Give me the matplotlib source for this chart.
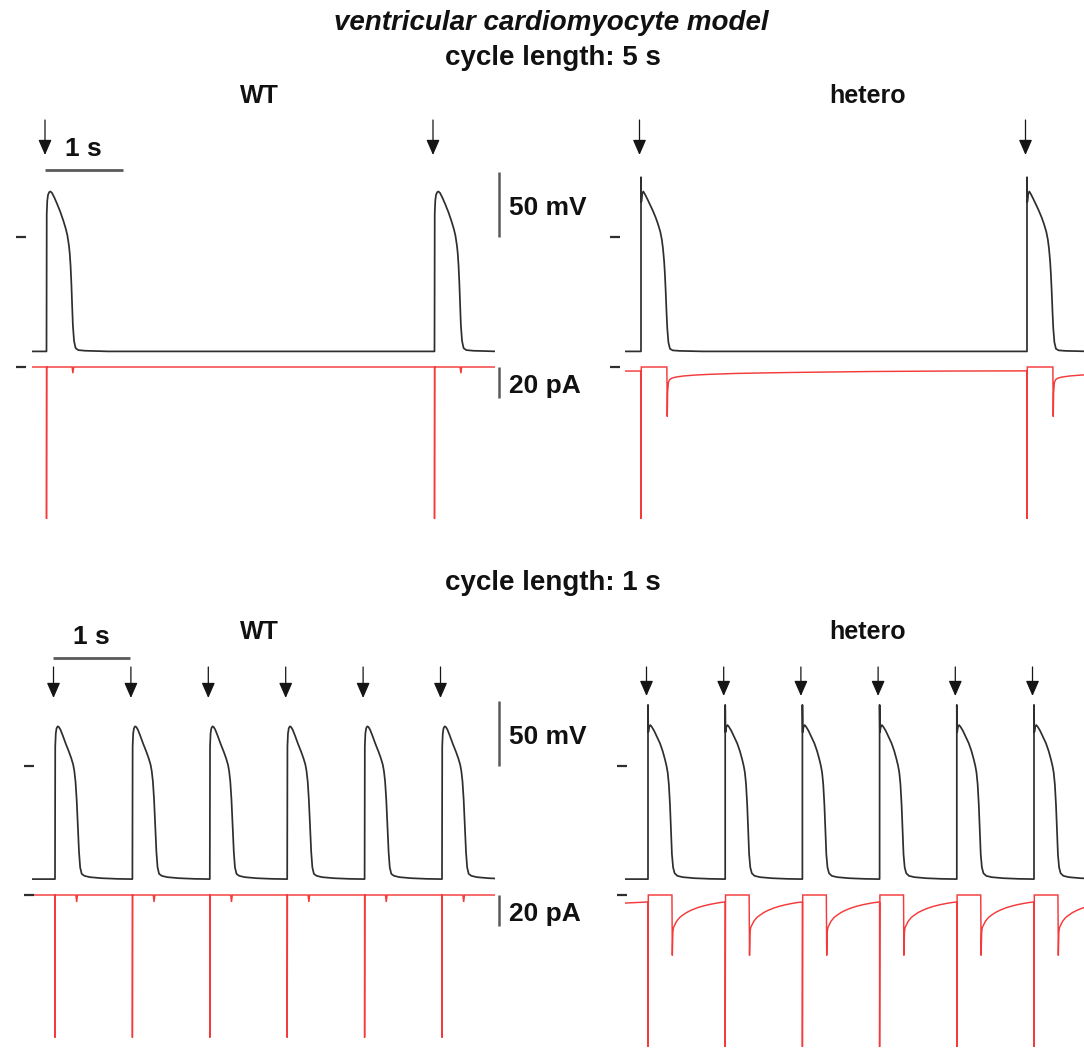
import matplotlib
matplotlib.use("Agg")
import matplotlib.pyplot as plt

plt.rcParams['font.family'] = ['Liberation Sans', 'DejaVu Sans']

# ---------------- data ----------------
# stimulus times (s)
stim_5s = [0.0, 5.0]
stim_1s = [0.0, 1.0, 2.0, 3.0, 4.0, 5.0]

# WT action potential, cycle length 5 s (time after stimulus in s, mV)
wt5_t = [0.0, 0.003, 0.01, 0.02, 0.035, 0.05, 0.07, 0.10, 0.14, 0.18, 0.22, 0.25, 0.27,
         0.29, 0.30, 0.31, 0.32, 0.33, 0.34, 0.355, 0.375, 0.41, 0.50, 0.80, 5.0]
wt5_v = [-88, 18, 28, 32.5, 34.5, 35, 34, 30.5, 25, 19, 12, 6, 1,
         -7, -13, -22, -35, -52, -68, -80, -85.5, -87, -87.5, -88, -88]
# WT current, cycle length 5 s (pA)
wt5_it = [0.0, 0.0, 0.003, 0.33, 0.34, 0.35, 5.0]
wt5_i = [0.0, -98, 0.0, 0.0, -4.0, 0.0, 0.0]

# hetero action potential, cycle length 5 s
het5_t = [0.0, 0.0, 0.004, 0.015, 0.03, 0.05, 0.08, 0.12, 0.155, 0.19, 0.22, 0.25, 0.27,
          0.285, 0.30, 0.31, 0.32, 0.33, 0.34, 0.355, 0.375, 0.41, 0.50, 0.80, 5.0]
het5_v = [-88, 46, 27, 33, 35, 33, 29.5, 24.5, 20, 15, 10, 4, -2,
          -9, -19, -29, -42, -57, -70, -81, -86, -87.2, -87.6, -88, -88]
# hetero current, cycle length 5 s
het5_it = [0.0, 0.0, 0.004, 0.335, 0.34, 0.345, 0.355, 0.37, 0.40, 0.45, 0.55, 0.70,
           0.90, 1.2, 1.6, 2.0, 2.5, 3.0, 4.0, 5.0]
het5_i = [-2.6, -98, 0.0, 0.0, -32, -16, -10, -8.2, -7.2, -6.5, -5.8, -5.2,
          -4.7, -4.2, -3.8, -3.5, -3.2, -2.9, -2.6, -2.5]

# WT action potential, cycle length 1 s
wt1_t = [0.0, 0.003, 0.01, 0.02, 0.035, 0.05, 0.07, 0.10, 0.14, 0.18, 0.21, 0.235, 0.25,
         0.265, 0.28, 0.295, 0.31, 0.325, 0.345, 0.38, 0.45, 0.60, 0.80, 1.0]
wt1_v = [-87, 15, 25, 29, 30.5, 30, 28, 23.5, 17, 11, 6, 1, -4,
         -12, -26, -46, -66, -78, -83, -84.5, -85.5, -86.3, -86.8, -87]
wt1_it = [0.0, 0.0, 0.003, 0.27, 0.28, 0.29, 1.0]
wt1_i = [0.0, -92, 0.0, 0.0, -4.5, 0.0, 0.0]

# hetero action potential, cycle length 1 s
het1_t = [0.0, 0.0, 0.004, 0.015, 0.03, 0.05, 0.08, 0.12, 0.155, 0.19, 0.22, 0.24, 0.255,
          0.27, 0.285, 0.298, 0.31, 0.325, 0.345, 0.38, 0.45, 0.60, 0.80, 1.0]
het1_v = [-87, 47, 26, 30, 31.5, 30, 27, 22, 17.5, 11.5, 5, 0, -5,
          -14, -30, -50, -68, -78, -82.5, -84.5, -85.5, -86.3, -86.8, -87]
het1_it = [0.0, 0.0, 0.004, 0.31, 0.315, 0.322, 0.33, 0.345, 0.37, 0.41, 0.45, 0.50,
           0.56, 0.63, 0.70, 0.78, 0.86, 0.93, 1.0]
het1_i = [-4.5, -98, 0.0, 0.0, -39, -24, -21, -19.5, -17, -14.5, -13, -11.3,
          -9.8, -8.4, -7.3, -6.3, -5.5, -4.9, -4.5]

# resting values before the first stimulus
rest_v = {"wt5": -88, "het5": -88, "wt1": -87, "het1": -87}
rest_i = {"wt5": 0.0, "het5": -2.6, "wt1": 0.0, "het1": -5.2}

title_main = "ventricular cardiomyocyte model"
title_5s = "cycle length: 5 s"
title_1s = "cycle length: 1 s"
groups = ["WT", "hetero"]
v_bar_label = "50 mV"
i_bar_label = "20 pA"
t_bar_label = "1 s"

# ---------------- figure ----------------
W, H = 1084, 1048
fig = plt.figure(figsize=(W / 100, H / 100), dpi=100)
fig.patch.set_facecolor("white")

BLACK = "#2e2e2e"
RED = "#f43a3a"
GREY = "#5a5a5a"


def px_axes(x0, pps, t_lo, t_hi, zero_px, ppu, y_top, y_bot):
    left = x0 + pps * t_lo
    right = x0 + pps * t_hi
    ax = fig.add_axes([left / W, 1 - y_bot / H, (right - left) / W, (y_bot - y_top) / H])
    ax.set_xlim(t_lo, t_hi)
    ax.set_ylim((zero_px - y_bot) / ppu, (zero_px - y_top) / ppu)
    ax.axis("off")
    return ax


def build(stims, bt, bv, t_start, pre):
    tt = [t_start]
    vv = [pre]
    for s in stims:
        tt += [s + x for x in bt]
        vv += list(bv)
    return tt, vv


def panel(key, stims, bt, bv, it, iv, x0, pps, t_lo, t_hi, v0_px, i0_px,
          v_top, v_bot, i_top, i_bot, arrow_top, arrow_tip, scalebars, tbar=None):
    ppm = 1.3   # px per mV
    ppa = 1.55  # px per pA
    axv = px_axes(x0, pps, t_lo, t_hi, v0_px, ppm, v_top, v_bot)
    axi = px_axes(x0, pps, t_lo, t_hi, i0_px, ppa, i_top, i_bot)
    t, v = build(stims, bt, bv, t_lo, rest_v[key])
    axv.plot(t, v, color=BLACK, lw=1.25, solid_joinstyle="round")
    t, i = build(stims, it, iv, t_lo, rest_i[key])
    axi.plot(t, i, color=RED, lw=1.05, solid_joinstyle="miter")

    # zero-level markers
    m0 = -31 / pps
    m1 = -21 / pps
    axv.plot([m0, m1], [0, 0], color=BLACK, lw=1.6, clip_on=False, solid_capstyle="butt")
    axi.plot([m0, m1], [0, 0], color=BLACK, lw=1.6, clip_on=False, solid_capstyle="butt")

    # stimulus arrows
    ya = (v0_px - arrow_top) / ppm
    yb = (v0_px - arrow_tip) / ppm
    for s in stims:
        if t_lo <= s <= t_hi:
            axv.annotate("", xy=(s - 1.5 / pps, yb), xytext=(s - 1.5 / pps, ya),
                         annotation_clip=False,
                         arrowprops=dict(arrowstyle="-|>,head_length=0.55,head_width=0.24",
                                         color="#151515", lw=0.9, shrinkA=0, shrinkB=0,
                                         mutation_scale=17))

    if scalebars:
        xb = (499 - x0) / pps
        axv.plot([xb, xb], [0, 50], color=GREY, lw=1.8, clip_on=False, solid_capstyle="butt")
        axi.plot([xb, xb], [0, -20], color=GREY, lw=1.8, clip_on=False, solid_capstyle="butt")
        xt = (509 - x0) / pps
        axv.text(xt, 22, v_bar_label, ha="left", va="center", fontsize=19,
                 fontweight="bold", color="#111111", clip_on=False)
        axi.text(xt, -12, i_bar_label, ha="left", va="center", fontsize=19,
                 fontweight="bold", color="#111111", clip_on=False)
    if tbar is not None:
        tb_x, tb_y, txt_y = tbar
        t0 = (tb_x - x0) / pps
        yy = (v0_px - tb_y) / ppm
        axv.plot([t0, t0 + 1.0], [yy, yy], color=GREY, lw=2.0, clip_on=False,
                 solid_capstyle="butt")
        axv.text(t0 + 0.5, (v0_px - txt_y) / ppm, t_bar_label, ha="center", va="center",
                 fontsize=19, fontweight="bold", color="#111111", clip_on=False)
    return axv, axi


# top row: cycle length 5 s
panel("wt5", stim_5s, wt5_t, wt5_v, wt5_it, wt5_i, x0=46.5, pps=77.6,
      t_lo=(32 - 46.5) / 77.6, t_hi=(495 - 46.5) / 77.6, v0_px=237, i0_px=367,
      v_top=110, v_bot=362, i_top=358, i_bot=524, arrow_top=120, arrow_tip=155,
      scalebars=True, tbar=(45, 170, 149))
panel("het5", stim_5s, het5_t, het5_v, het5_it, het5_i, x0=641, pps=77.2,
      t_lo=(625 - 641) / 77.2, t_hi=(1095 - 641) / 77.2, v0_px=237, i0_px=367,
      v_top=110, v_bot=362, i_top=358, i_bot=524, arrow_top=120, arrow_tip=155,
      scalebars=False)

# bottom row: cycle length 1 s
panel("wt1", stim_1s, wt1_t, wt1_v, wt1_it, wt1_i, x0=55, pps=77.4,
      t_lo=(32 - 55) / 77.4, t_hi=(495 - 55) / 77.4, v0_px=766, i0_px=895,
      v_top=640, v_bot=890, i_top=886, i_bot=1048, arrow_top=667, arrow_tip=698,
      scalebars=True, tbar=(53, 658, 637))
panel("het1", stim_1s, het1_t, het1_v, het1_it, het1_i, x0=648, pps=77.2,
      t_lo=(625 - 648) / 77.2, t_hi=(1095 - 648) / 77.2, v0_px=766, i0_px=895,
      v_top=640, v_bot=890, i_top=886, i_bot=1050, arrow_top=667, arrow_tip=696,
      scalebars=False)


# titles
def ftext(x, y, s, **kw):
    fig.text(x / W, 1 - y / H, s, ha="center", va="center", color="#111111", **kw)


ftext(551, 23, title_main, fontsize=20, fontweight="bold", style="italic")
ftext(553, 58, title_5s, fontsize=20, fontweight="bold")
ftext(259, 96, groups[0], fontsize=18, fontweight="bold")
ftext(868, 96, groups[1], fontsize=18, fontweight="bold")
ftext(553, 583, title_1s, fontsize=20, fontweight="bold")
ftext(259, 632, groups[0], fontsize=18, fontweight="bold")
ftext(868, 632, groups[1], fontsize=18, fontweight="bold")

fig.savefig("out.png", dpi=100, facecolor="white")
